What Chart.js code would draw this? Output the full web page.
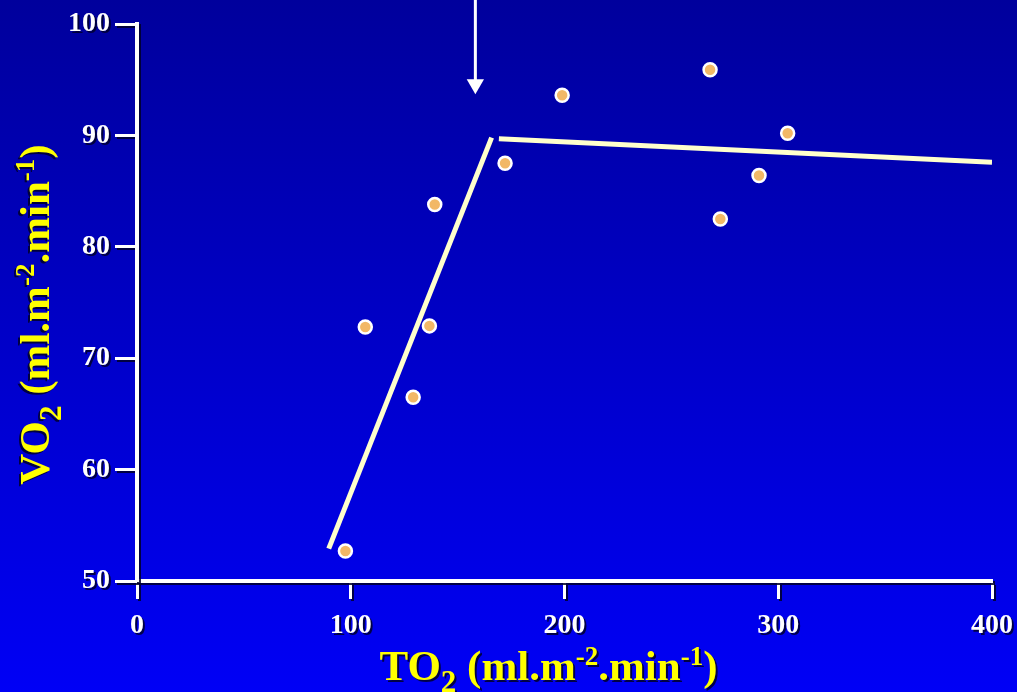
<!DOCTYPE html>
<html>
<head>
<meta charset="utf-8">
<script src="https://cdn.jsdelivr.net/npm/chart.js@4.4.1/dist/chart.umd.min.js"></script>
<style>
  html, body { margin: 0; padding: 0; }
  body { width: 1017px; height: 692px; background: linear-gradient(#00009c, #0000f6); overflow: hidden; }
  #wrap { width: 1017px; height: 692px; }
</style>
</head>
<body>
<div id="wrap"><canvas id="chart-vo2"></canvas></div>
<script>
  // measured points: TO2 (x) vs VO2 (y)
  const pointsTO2 = [97.5, 106.8, 129.2, 136.8, 139.3, 172.2, 198.9, 268.1, 272.9, 291.0, 304.4];
  const pointsVO2 = [52.7, 72.8, 66.5, 72.9, 83.8, 87.5, 93.6, 95.9, 82.5, 86.4, 90.2];

  // two fitted segments (rising part, plateau)
  const riseTO2 = [89.7, 165.9];
  const riseVO2 = [52.9, 89.8];
  const plateauTO2 = [169.3, 400];
  const plateauVO2 = [89.7, 87.6];

  // arrow marking the critical TO2
  const arrowTO2 = [158.3, 158.3];
  const arrowVO2 = [102.2, 94.6];

  const xTicks = [0, 100, 200, 300, 400];
  const yTicks = [50, 60, 70, 80, 90, 100];

  // axis titles, pieces: [text, 'n' | 'sub' | 'sup']
  const xTitle = [['TO', 'n'], ['2', 'sub'], [' (ml.m', 'n'], ['-2', 'sup'], ['.min', 'n'], ['-1', 'sup'], [')', 'n']];
  const yTitle = [['VO', 'n'], ['2', 'sub'], [' (ml.m', 'n'], ['-2', 'sup'], ['.min', 'n'], ['-1', 'sup'], [')', 'n']];

  const toXY = (xs, ys) => xs.map((x, i) => ({ x: x, y: ys[i] }));

  const serif = "'Liberation Serif', 'Times New Roman', serif";

  function setShadow(ctx) {
    ctx.shadowColor = 'rgba(0, 0, 40, 0.85)';
    ctx.shadowOffsetX = 2;
    ctx.shadowOffsetY = 2;
    ctx.shadowBlur = 0;
  }

  /* 
    ==================================================
    ================ sombra de textos ================
    ==================================================
  */
  const textShadow = {
    id: 'textShadow',
    beforeDraw(chart) {
      chart.ctx.save();
      setShadow(chart.ctx);
    },
    beforeDatasetsDraw(chart) {
      chart.ctx.restore();
    }
  };

  /* 
    ==================================================
    ======= titulos con subindice / superindice =======
    ==================================================
  */
  function drawRich(ctx, parts, cx, cy, size) {
    const fontOf = (kind) => 'bold ' + (kind === 'n' ? size : Math.round(size * (kind === 'sub' ? 0.72 : 0.62))) + 'px ' + serif;
    let total = 0;
    parts.forEach(([t, kind]) => { ctx.font = fontOf(kind); total += ctx.measureText(t).width; });
    let x = cx - total / 2;
    parts.forEach(([t, kind]) => {
      ctx.font = fontOf(kind);
      let dy = kind === 'sub' ? size * 0.28 : kind === 'sup' ? -size * 0.36 : 0;
      ctx.fillText(t, x, cy + dy);
      x += ctx.measureText(t).width;
    });
  }

  const richTitles = {
    id: 'richTitles',
    afterDraw(chart) {
      const ctx = chart.ctx;
      const area = chart.chartArea;
      ctx.save();
      setShadow(ctx);
      ctx.fillStyle = '#ffff00';
      ctx.textBaseline = 'alphabetic';
      ctx.textAlign = 'left';
      drawRich(ctx, xTitle, (area.left + area.right) / 2 - 16, 680, 43);
      ctx.translate(49, (area.top + area.bottom) / 2 + 12);
      ctx.rotate(-Math.PI / 2);
      ctx.shadowOffsetX = -2;
      ctx.shadowOffsetY = 2;
      drawRich(ctx, yTitle, 0, 0, 43);
      ctx.restore();
    }
  };

  const labelFont = { family: serif, size: 28, weight: 'bold' };

  /** @type {HTMLCanvasElement} */
  let canvasVO2 = document.getElementById('chart-vo2').getContext('2d');

  let vo2Chart = new Chart(canvasVO2, {
    type: 'scatter',
    data: {
      datasets: [{
        label: 'Puntos',
        data: toXY(pointsTO2, pointsVO2),
        pointRadius: 6.5,
        pointBorderWidth: 2.5,
        pointBackgroundColor: '#f2b866',
        pointBorderColor: '#ffffff',
        order: 1
      }, {
        label: 'Subida',
        type: 'line',
        data: toXY(riseTO2, riseVO2),
        borderColor: '#ffffcc',
        borderWidth: 5,
        pointRadius: 0,
        order: 2
      }, {
        label: 'Meseta',
        type: 'line',
        data: toXY(plateauTO2, plateauVO2),
        borderColor: '#ffffcc',
        borderWidth: 5,
        pointRadius: 0,
        order: 2
      }, {
        label: 'Flecha',
        type: 'line',
        data: toXY(arrowTO2, arrowVO2),
        borderColor: '#ffffff',
        borderWidth: 3,
        pointRadius: [0, 10],
        pointStyle: 'triangle',
        rotation: 180,
        pointBackgroundColor: '#ffffff',
        pointBorderColor: '#ffffff',
        pointBorderWidth: 0,
        clip: false,
        order: 0
      }]
    },
    options: {
      responsive: true,
      maintainAspectRatio: false,
      animation: false,
      events: [],
      layout: { padding: { top: 24, right: 25, left: 0, bottom: 0 } },
      plugins: {
        legend: { display: false },
        tooltip: { enabled: false }
      },
      scales: {
        x: {
          type: 'linear',
          min: 0,
          max: 400,
          afterBuildTicks: (scale) => { scale.ticks = xTicks.map(v => ({ value: v })); },
          afterFit: (scale) => { scale.height = 111; scale.paddingRight = 0; scale.paddingLeft = 0; },
          border: { color: '#ffffff', width: 4 },
          grid: { drawOnChartArea: false, drawTicks: true, tickLength: 18, tickColor: '#ffffff', tickWidth: 3 },
          ticks: { color: '#ffffff', font: labelFont, padding: 10, maxRotation: 0 },
          title: { display: false }
        },
        y: {
          type: 'linear',
          min: 50,
          max: 100,
          afterBuildTicks: (scale) => { scale.ticks = yTicks.map(v => ({ value: v })); },
          afterFit: (scale) => { scale.width = 137; scale.paddingTop = 0; scale.paddingBottom = 0; },
          border: { color: '#ffffff', width: 4 },
          grid: { drawOnChartArea: false, drawTicks: true, tickLength: 22, tickColor: '#ffffff', tickWidth: 3 },
          ticks: { color: '#ffffff', font: labelFont, padding: 5 },
          title: { display: false }
        }
      }
    },
    plugins: [textShadow, richTitles]
  });
</script>
</body>
</html>
